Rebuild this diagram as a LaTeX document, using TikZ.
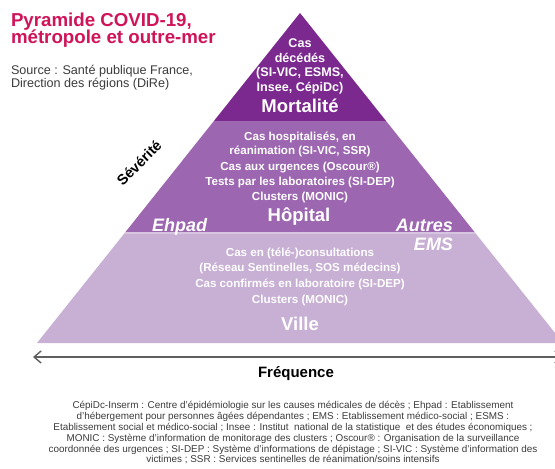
\documentclass[tikz,border=0pt]{standalone}
\usepackage{fontspec}
\setmainfont{Liberation Sans}
\usetikzlibrary{arrows.meta}
\definecolor{mort}{RGB}{123,40,143}
\definecolor{hosp}{RGB}{156,102,176}
\definecolor{vill}{RGB}{200,175,212}
\definecolor{villtop}{RGB}{214,196,224}
\definecolor{titlec}{RGB}{208,20,90}
\definecolor{srcgray}{RGB}{60,60,60}
\definecolor{arrgray}{RGB}{95,95,95}
\begin{document}
\begin{tikzpicture}[x=1pt,y=-1pt,
  every node/.style={inner sep=0pt,outer sep=0pt},
  titletxt/.style={anchor=base west,text=titlec,font=\bfseries\fontsize{18.7}{20}\selectfont},
  srctxt/.style={anchor=base west,text=srcgray,font=\fontsize{12.6}{14}\selectfont},
  morttxt/.style={anchor=base,text=white,font=\bfseries\fontsize{12.6}{14}\selectfont},
  laytxt/.style={anchor=base,text=white,font=\bfseries\fontsize{11.6}{14}\selectfont},
  laylabel/.style={anchor=base,text=white,font=\bfseries\fontsize{18.5}{20}\selectfont},
  instlabel/.style={text=white,font=\bfseries\itshape\fontsize{18}{20}\selectfont},
  axislabel/.style={text=black,font=\bfseries\fontsize{14.5}{16}\selectfont},
  foot/.style={anchor=base,text=srcgray,font=\fontsize{9.9}{11}\selectfont},
  axisline/.style={draw=arrgray,line width=1.6pt,{Straight Barb[length=7pt,width=12pt,line width=1.4pt]}-{Straight Barb[length=7pt,width=12pt,line width=1.4pt]}}
]
\useasboundingbox (0,0) rectangle (555,469);
\fill[white] (0,0) rectangle (555,469);
% pyramid layers
\fill[mort] (300,13) -- (386.1,121) -- (213.9,121) -- cycle;
\fill[hosp] (213.9,121) -- (386.1,121) -- (474.5,232) -- (125.5,232) -- cycle;
\fill[vill] (125.5,232) -- (474.5,232) -- (563,343) -- (37,343) -- cycle;
\fill[villtop] (125.5,232) -- (474.5,232) -- (476.1,234) -- (123.9,234) -- cycle;
% title and source
\node[titletxt] (t1) at (11,26) {Pyramide COVID-19,};
\node[titletxt] (t2) at (11,43.5) {métropole et outre-mer};
\node[srctxt] (s1) at (11,74) {Source : Santé publique France,};
\node[srctxt] (s2) at (11,87.3) {Direction des régions (DiRe)};
% Mortalité
\node[morttxt] (m1) at (300,47.7) {Cas};
\node[morttxt] (m2) at (300,62.2) {décédés};
\node[morttxt] (m3) at (300,76.7) {(SI-VIC, ESMS,};
\node[morttxt] (m4) at (300,91.2) {Insee, CépiDc)};
\node[laylabel] (mlab) at (300,112.7) {Mortalité};
% Hôpital
\node[laytxt] (h1) at (300,140) {Cas hospitalisés, en};
\node[laytxt] (h2) at (300,154.7) {réanimation (SI-VIC, SSR)};
\node[laytxt] (h3) at (300,170) {Cas aux urgences (Oscour®)};
\node[laytxt] (h4) at (300,185) {Tests par les laboratoires (SI-DEP)};
\node[laytxt] (h5) at (300,200.2) {Clusters (MONIC)};
\node[laylabel] (hlab) at (299,221) {Hôpital};
\node[instlabel,anchor=base west] (ehpad) at (152,231) {Ehpad};
\node[instlabel,anchor=base east] (autres) at (453,231) {Autres};
\node[instlabel,anchor=base east] (ems) at (453,250.5) {EMS};
% Ville
\node[laytxt] (v1) at (300,256.5) {Cas en (télé-)consultations};
\node[laytxt] (v2) at (300,271) {(Réseau Sentinelles, SOS médecins)};
\node[laytxt] (v3) at (300,287.5) {Cas confirmés en laboratoire (SI-DEP)};
\node[laytxt] (v4) at (300,303.5) {Clusters (MONIC)};
\node[laylabel] (vlab) at (300,330) {Ville};
% axes
\node[axislabel,rotate=45] (sev) at (139,163) {Sévérité};
\coordinate (fl) at (33,357);
\coordinate (fr) at (563,357);
\draw[axisline] (fl) -- (fr);
\node[axislabel,anchor=base,font=\bfseries\fontsize{15}{16}\selectfont] (freq) at (296,377.5) {Fréquence};
% footnote
\node[foot] (f1) at (293,408.8) {CépiDc-Inserm : Centre d’épidémiologie sur les causes médicales de décès ; Ehpad : Etablissement};
\node[foot] (f2) at (293,419.6) {d’hébergement pour personnes âgées dépendantes ; EMS : Etablissement médico-social ; ESMS :};
\node[foot] (f3) at (293,430.4) {Etablissement social et médico-social ; Insee : Institut\ \ national de la statistique\ \ et des études économiques ;};
\node[foot] (f4) at (293,441.2) {MONIC : Système d’information de monitorage des clusters ; Oscour® : Organisation de la surveillance};
\node[foot] (f5) at (293,452) {coordonnée des urgences ; SI-DEP : Système d’informations de dépistage ; SI-VIC : Système d’information des};
\node[foot] (f6) at (293,462.8) {victimes ; SSR : Services sentinelles de réanimation/soins intensifs};
\end{tikzpicture}
\end{document}
